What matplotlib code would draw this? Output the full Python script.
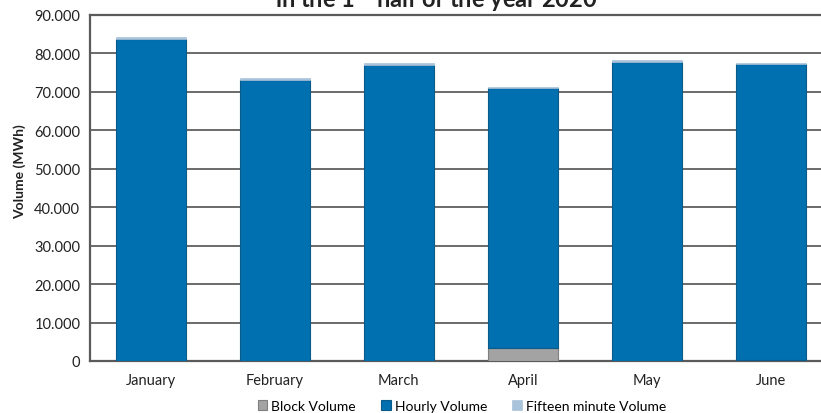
import numpy as np
import matplotlib
matplotlib.use("Agg")
import matplotlib.pyplot as plt

# Data (MWh)
months = ["January", "February", "March", "April", "May", "June"]
block_volume = [100, 100, 100, 3500, 100, 200]
hourly_volume = [83700, 73100, 76800, 67500, 77600, 77000]
fifteen_volume = [500, 400, 700, 400, 600, 300]
yticks = np.arange(0, 90001, 10000)
ytick_labels = ["0"] + [f"{v // 1000}.000" for v in yticks[1:]]

plt.rcParams['font.family'] = ['Lato', 'DejaVu Sans']

fig = plt.figure(figsize=(8.21, 4.14), dpi=100)
ax = fig.add_axes([90 / 821, 52 / 414, 1 - 90 / 821, 346 / 414])

x = np.arange(len(months))
w = 0.565
block = np.array(block_volume)
hourly = np.array(hourly_volume)
fifteen = np.array(fifteen_volume)

b1 = ax.bar(x, block, w, color="#a3a3a3", edgecolor="#7f7f7f", lw=0.8,
            label="Block Volume", zorder=3)
b2 = ax.bar(x, hourly, w, bottom=block, color="#0070b0", edgecolor="#0a5a8a",
            lw=0.8, label="Hourly Volume", zorder=3)
b3 = ax.bar(x, fifteen, w, bottom=block + hourly, color="#a9c3db",
            edgecolor="#a9c3db", lw=0.5, label="Fifteen minute Volume", zorder=3)

ax.set_xlim(-0.49, 5.403)
ax.set_ylim(0, 90000)
ax.set_yticks(yticks)
ax.set_yticklabels(ytick_labels)
ax.set_xticks(x)
ax.set_xticklabels(months)
ax.tick_params(length=0, labelsize=10.5, colors="#222222")
ax.tick_params(axis="y", pad=7)
ax.tick_params(axis="x", pad=9)

ax.grid(axis="y", color="#6a6a6a", lw=1.4, zorder=1)
ax.spines["right"].set_visible(False)
for s in ["left", "bottom", "top"]:
    ax.spines[s].set_color("#5a5a5a")
    ax.spines[s].set_linewidth(1.6)

fig.text(20 / 821, 1 - 172 / 414, "Volume (MWh)", rotation=90, fontsize=10,
         fontweight="bold", ha="center", va="center", color="#222222")

fig.text(436 / 821, 1 - 8 / 414, "in the 1$^{st}$ half of the year 2020",
         fontsize=17, fontweight="bold", ha="center", va="baseline", color="#222222")

fig.legend(handles=[b1, b2, b3], loc="center", bbox_to_anchor=(462 / 821, 1 - 407 / 414),
           ncol=3, frameon=False, fontsize=10, handlelength=0.7, handleheight=0.7,
           handletextpad=0.3, columnspacing=1.8, borderaxespad=0, borderpad=0)

fig.savefig("out.png", dpi=100)
